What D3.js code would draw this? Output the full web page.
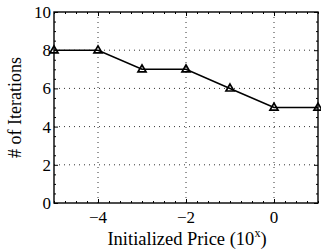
<!DOCTYPE html>
<html>
<head>
<meta charset="utf-8">
<script src="https://cdn.jsdelivr.net/npm/d3@7"></script>
<style>
body { margin: 0; background: #fff; }
</style>
</head>
<body>
<div id="vis"></div>
<script>
var width = 321,
	height = 250;

var margin = {left: 54, right: 3, top: 12, bottom: 47};

// data
var priceExp = [-5, -4, -3, -2, -1, 0, 1];
var iterations = [8, 8, 7, 7, 6, 5, 5];
var xTicks = [-4, -2, 0];
var yTicks = [0, 2, 4, 6, 8, 10];

var x = d3.scaleLinear().domain([-5, 1]).range([margin.left, width - margin.right]),
	y = d3.scaleLinear().domain([0, 10]).range([height - margin.bottom, margin.top]);

var svg = d3.select('#vis')
	.append('svg')
	.attr('width', width)
	.attr('height', height)
	.attr('font-family', '"Liberation Serif", "Times New Roman", serif');

var x0 = x.range()[0], x1 = x.range()[1],
	y0 = y.range()[0], y1 = y.range()[1];

// dotted grid
svg.append('g').selectAll('line')
	.data(xTicks)
	.enter().append('line')
	.attr('x1', function(d) { return x(d); })
	.attr('x2', function(d) { return x(d); })
	.attr('y1', y0).attr('y2', y1)
	.style('stroke', '#000')
	.style('stroke-width', 0.8)
	.style('stroke-dasharray', '1,4');

svg.append('g').selectAll('line')
	.data(yTicks.slice(1, -1))
	.enter().append('line')
	.attr('y1', function(d) { return y(d); })
	.attr('y2', function(d) { return y(d); })
	.attr('x1', x0).attr('x2', x1)
	.style('stroke', '#000')
	.style('stroke-width', 0.8)
	.style('stroke-dasharray', '1,4');

// inward ticks on all sides
var xMinor = d3.range(-5, 1.001, 0.25).filter(function(d) { return xTicks.indexOf(d) < 0; });
var yMinor = d3.range(0, 10.001, 0.5).filter(function(d) { return yTicks.indexOf(d) < 0; });

function tickMarks(axis, sel, len) {
	axis.tickSize(len).tickFormat('').tickSizeOuter(0);
	sel.call(axis);
	sel.select('.domain').remove();
	sel.selectAll('line').style('stroke', '#000').style('stroke-width', 1);
}

tickMarks(d3.axisTop(x).tickValues(xTicks), svg.append('g').attr('transform', 'translate(0,' + y0 + ')'), 4);
tickMarks(d3.axisTop(x).tickValues(xMinor), svg.append('g').attr('transform', 'translate(0,' + y0 + ')'), 2);
tickMarks(d3.axisBottom(x).tickValues(xTicks), svg.append('g').attr('transform', 'translate(0,' + y1 + ')'), 4);
tickMarks(d3.axisBottom(x).tickValues(xMinor), svg.append('g').attr('transform', 'translate(0,' + y1 + ')'), 2);
tickMarks(d3.axisRight(y).tickValues(yTicks), svg.append('g').attr('transform', 'translate(' + x0 + ',0)'), 4);
tickMarks(d3.axisRight(y).tickValues(yMinor), svg.append('g').attr('transform', 'translate(' + x0 + ',0)'), 2);
tickMarks(d3.axisLeft(y).tickValues(yTicks), svg.append('g').attr('transform', 'translate(' + x1 + ',0)'), 4);
tickMarks(d3.axisLeft(y).tickValues(yMinor), svg.append('g').attr('transform', 'translate(' + x1 + ',0)'), 2);

// box
svg.append('rect')
	.attr('x', x0).attr('y', y1)
	.attr('width', x1 - x0).attr('height', y0 - y1)
	.style('fill', 'none')
	.style('stroke', '#000')
	.style('stroke-width', 1.4);

// tick labels
svg.append('g').selectAll('text')
	.data(xTicks)
	.enter().append('text')
	.attr('x', function(d) { return x(d); })
	.attr('y', y0 + 20)
	.attr('text-anchor', 'middle')
	.attr('font-size', 17)
	.text(function(d) { return d < 0 ? '\u2212' + Math.abs(d) : d; });

svg.append('g').selectAll('text')
	.data(yTicks)
	.enter().append('text')
	.attr('x', x0 - 3)
	.attr('y', function(d) { return y(d) + 6; })
	.attr('text-anchor', 'end')
	.attr('font-size', 17)
	.text(function(d) { return d; });

// axis titles
var xl = svg.append('text')
	.attr('x', (x0 + x1) / 2 + 1)
	.attr('y', y0 + 42)
	.attr('text-anchor', 'middle')
	.attr('font-size', 18.5);
xl.append('tspan').text('Initialized Price (10');
xl.append('tspan').attr('dy', -8).attr('font-size', 12).text('x');
xl.append('tspan').attr('dy', 8).text(')');

svg.append('text')
	.attr('transform', 'translate(21,' + ((y0 + y1) / 2) + ') rotate(-90)')
	.attr('text-anchor', 'middle')
	.attr('font-size', 18)
	.text('# of Iterations');

// line + triangle markers
var pts = priceExp.map(function(d, i) { return [d, iterations[i]]; });

svg.append('path')
	.datum(pts)
	.attr('d', d3.line().x(function(d) { return x(d[0]); }).y(function(d) { return y(d[1]); }))
	.style('fill', 'none')
	.style('stroke', '#000')
	.style('stroke-width', 1.6);

var tri = d3.symbol().type(d3.symbolTriangle).size(28);
svg.append('g').selectAll('path')
	.data(pts)
	.enter().append('path')
	.attr('d', tri)
	.attr('transform', function(d) { return 'translate(' + x(d[0]) + ',' + (y(d[1]) + 0.3) + ')'; })
	.style('fill', 'none')
	.style('stroke', '#000')
	.style('stroke-width', 1.7);
</script>
</body>
</html>
